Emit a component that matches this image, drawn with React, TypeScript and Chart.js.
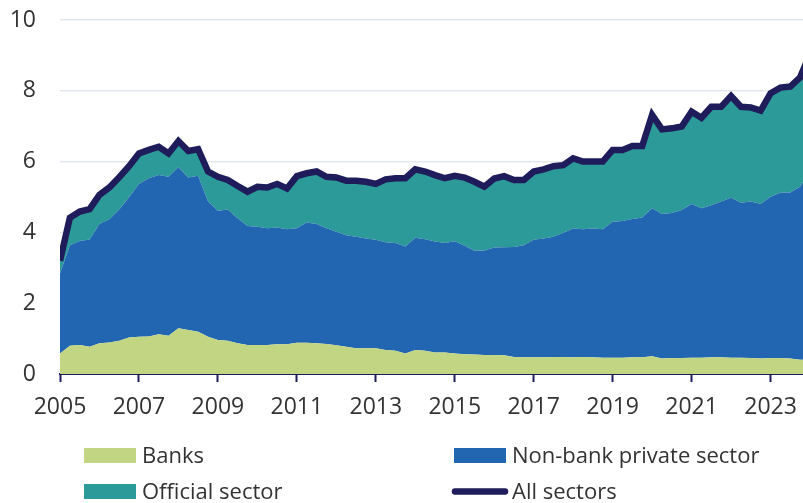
import React, { useEffect, useRef } from 'react';
import { Chart, registerables } from 'chart.js';

Chart.register(...registerables);

// Quarterly categories 2005 Q1 .. 2024 Q1
const firstYear = 2005;
const lastYear = 2024;
const quarterLabels: string[] = [];
for (let y = firstYear; y <= lastYear; y++) {
  for (let q = 1; q <= 4; q++) {
    if (y === lastYear && q > 1) break;
    quarterLabels.push(`${y} Q${q}`);
  }
}

const yearTickLabels = ['2005', '2007', '2009', '2011', '2013', '2015', '2017', '2019', '2021', '2023'];
const yTicks = [0, 2, 4, 6, 8, 10];

const banks = [
  0.58, 0.80, 0.82, 0.77, 0.87, 0.89, 0.94, 1.03, 1.05, 1.06,
  1.12, 1.08, 1.29, 1.24, 1.19, 1.05, 0.96, 0.94, 0.87, 0.82,
  0.82, 0.82, 0.84, 0.84, 0.88, 0.88, 0.87, 0.85, 0.81, 0.77,
  0.73, 0.73, 0.73, 0.68, 0.66, 0.58, 0.68, 0.66, 0.61, 0.61,
  0.58, 0.56, 0.55, 0.54, 0.54, 0.53, 0.48, 0.47, 0.47, 0.47,
  0.48, 0.48, 0.47, 0.48, 0.47, 0.46, 0.46, 0.46, 0.47, 0.47,
  0.50, 0.44, 0.45, 0.45, 0.46, 0.46, 0.47, 0.47, 0.46, 0.46,
  0.45, 0.44, 0.45, 0.45, 0.44, 0.40, 0.40,
];

const nonBankPrivate = [
  2.26, 2.84, 2.94, 3.03, 3.37, 3.48, 3.71, 3.96, 4.32, 4.47,
  4.50, 4.49, 4.55, 4.31, 4.41, 3.82, 3.65, 3.71, 3.53, 3.36,
  3.34, 3.30, 3.30, 3.25, 3.24, 3.40, 3.37, 3.27, 3.21, 3.15,
  3.15, 3.10, 3.06, 3.04, 3.04, 3.02, 3.17, 3.15, 3.13, 3.09,
  3.17, 3.06, 2.93, 2.95, 3.03, 3.05, 3.11, 3.17, 3.32, 3.36,
  3.40, 3.51, 3.64, 3.61, 3.64, 3.63, 3.84, 3.86, 3.91, 3.95,
  4.18, 4.08, 4.10, 4.18, 4.34, 4.22, 4.30, 4.40, 4.52, 4.38,
  4.42, 4.36, 4.56, 4.67, 4.69, 4.89, 5.35,
];

const officialSector = [
  0.36, 0.77, 0.83, 0.86, 0.82, 0.90, 0.91, 0.88, 0.86, 0.80,
  0.80, 0.66, 0.74, 0.75, 0.75, 0.85, 0.96, 0.83, 0.91, 0.97,
  1.13, 1.15, 1.23, 1.15, 1.47, 1.39, 1.48, 1.45, 1.53, 1.54,
  1.58, 1.60, 1.58, 1.78, 1.83, 1.93, 1.93, 1.91, 1.88, 1.83,
  1.85, 1.93, 1.95, 1.80, 1.95, 2.01, 1.89, 1.84, 1.93, 1.95,
  1.99, 1.91, 1.98, 1.91, 1.89, 1.91, 2.03, 2.01, 2.06, 2.02,
  2.64, 2.39, 2.39, 2.36, 2.61, 2.56, 2.78, 2.68, 2.87, 2.71,
  2.66, 2.64, 2.92, 2.97, 2.99, 3.09, 3.30,
];

const allSectors = [
  3.20, 4.41, 4.59, 4.66, 5.06, 5.27, 5.56, 5.87, 6.23, 6.33,
  6.42, 6.23, 6.58, 6.30, 6.35, 5.72, 5.57, 5.48, 5.31, 5.15,
  5.29, 5.27, 5.37, 5.24, 5.59, 5.67, 5.72, 5.57, 5.55, 5.46,
  5.46, 5.43, 5.37, 5.50, 5.53, 5.53, 5.78, 5.72, 5.62, 5.53,
  5.60, 5.55, 5.43, 5.29, 5.52, 5.59, 5.48, 5.48, 5.72, 5.78,
  5.87, 5.90, 6.09, 6.00, 6.00, 6.00, 6.33, 6.33, 6.44, 6.44,
  7.32, 6.91, 6.94, 6.99, 7.41, 7.24, 7.55, 7.55, 7.85, 7.55,
  7.53, 7.44, 7.93, 8.09, 8.12, 8.38, 9.05,
];

const seriesNames = ['Banks', 'Non-bank private sector', 'Official sector', 'All sectors'];

const COLORS = {
  banks: '#c2d582',
  nonBank: '#2265b0',
  official: '#2c9a98',
  all: '#1e1c5a',
  grid: '#e2e7f0',
  text: '#333333',
};

const FONT = "'Open Sans', 'Noto Sans', sans-serif";

const customLegend = {
  id: 'customLegend',
  afterDraw(chart: any) {
    const ctx = chart.ctx as CanvasRenderingContext2D;
    const items = [
      { label: seriesNames[0], color: COLORS.banks, kind: 'box', x: 84, y: 463 },
      { label: seriesNames[1], color: COLORS.nonBank, kind: 'box', x: 454, y: 463 },
      { label: seriesNames[2], color: COLORS.official, kind: 'box', x: 84, y: 499 },
      { label: seriesNames[3], color: COLORS.all, kind: 'line', x: 454, y: 499 },
    ];
    ctx.save();
    ctx.font = `22px ${FONT}`;
    ctx.textBaseline = 'alphabetic';
    ctx.textAlign = 'left';
    for (const it of items) {
      if (it.kind === 'box') {
        ctx.fillStyle = it.color;
        ctx.fillRect(it.x, it.y - 15, 52, 15);
      } else {
        ctx.strokeStyle = it.color;
        ctx.lineWidth = 6.5;
        ctx.lineCap = 'round';
        ctx.beginPath();
        ctx.moveTo(it.x + 1, it.y - 7.5);
        ctx.lineTo(it.x + 51, it.y - 7.5);
        ctx.stroke();
      }
      ctx.fillStyle = COLORS.text;
      ctx.fillText(it.label, it.x + 58, it.y);
    }
    ctx.restore();
  },
};

export default function App() {
  const canvasRef = useRef<HTMLCanvasElement | null>(null);

  useEffect(() => {
    document.body.style.margin = '0';
    const canvas = canvasRef.current;
    if (!canvas) return;
    Chart.defaults.font.family = FONT;

    const chart = new Chart(canvas, {
      type: 'line',
      data: {
        labels: quarterLabels,
        datasets: [
          {
            label: seriesNames[0],
            data: banks,
            backgroundColor: COLORS.banks,
            borderColor: 'transparent',
            borderWidth: 0,
            fill: 'origin',
            stack: 'areas',
            order: 1,
            pointRadius: 0,
          },
          {
            label: seriesNames[1],
            data: nonBankPrivate,
            backgroundColor: COLORS.nonBank,
            borderColor: 'transparent',
            borderWidth: 0,
            fill: '-1',
            stack: 'areas',
            order: 1,
            pointRadius: 0,
          },
          {
            label: seriesNames[2],
            data: officialSector,
            backgroundColor: COLORS.official,
            borderColor: 'transparent',
            borderWidth: 0,
            fill: '-1',
            stack: 'areas',
            order: 1,
            pointRadius: 0,
          },
          {
            label: seriesNames[3],
            data: allSectors,
            borderColor: COLORS.all,
            backgroundColor: COLORS.all,
            borderWidth: 6.5,
            fill: false,
            stack: 'total',
            order: 0,
            pointRadius: 0,
            clip: 0,
          } as any,
        ],
      },
      options: {
        animation: false,
        responsive: false,
        maintainAspectRatio: false,
        devicePixelRatio: 1,
        layout: { padding: { top: 20, left: 0, right: 0, bottom: 0 } },
        elements: { line: { tension: 0 }, point: { radius: 0 } },
        plugins: {
          legend: { display: false },
          tooltip: { enabled: false },
          title: { display: false },
        },
        scales: {
          x: {
            type: 'category',
            offset: false,
            grid: {
              display: true,
              drawOnChartArea: false,
              drawTicks: true,
              tickLength: 8,
              tickWidth: 2,
              tickColor: (c: any) => {
                const lab = quarterLabels[c.index] || '';
                return lab.endsWith('Q1') && yearTickLabels.includes(lab.slice(0, 4)) ? COLORS.all : 'rgba(0,0,0,0)';
              },
            },
            border: { display: true, color: COLORS.all, width: 2 },
            ticks: {
              autoSkip: false,
              maxRotation: 0,
              minRotation: 0,
              padding: 12,
              color: COLORS.text,
              font: { family: FONT, size: 23 },
              callback: (_v: any, i: number) => {
                const lab = quarterLabels[i] || '';
                return lab.endsWith('Q1') && yearTickLabels.includes(lab.slice(0, 4)) ? lab.slice(0, 4) : '';
              },
            },
            afterFit: (s: any) => {
              s.height = 129;
              s.paddingLeft = 0;
              s.paddingRight = 0;
            },
          } as any,
          y: {
            type: 'linear',
            stacked: true,
            min: yTicks[0],
            max: yTicks[yTicks.length - 1],
            grid: { color: COLORS.grid, lineWidth: 1.5, drawTicks: false },
            border: { display: false },
            ticks: {
              stepSize: 2,
              padding: 24,
              color: COLORS.text,
              font: { family: FONT, size: 23 },
            },
            afterFit: (s: any) => {
              s.width = 60;
              s.paddingTop = 0;
              s.paddingBottom = 0;
            },
          } as any,
        },
      },
      plugins: [customLegend],
    });

    return () => {
      chart.destroy();
    };
  }, []);

  return (
    <div style={{ width: 803, height: 503, overflow: 'hidden', position: 'relative' }}>
      <canvas
        ref={canvasRef}
        width={810}
        height={503}
        style={{ display: 'block', width: '810px', height: '503px' }}
      />
    </div>
  );
}
